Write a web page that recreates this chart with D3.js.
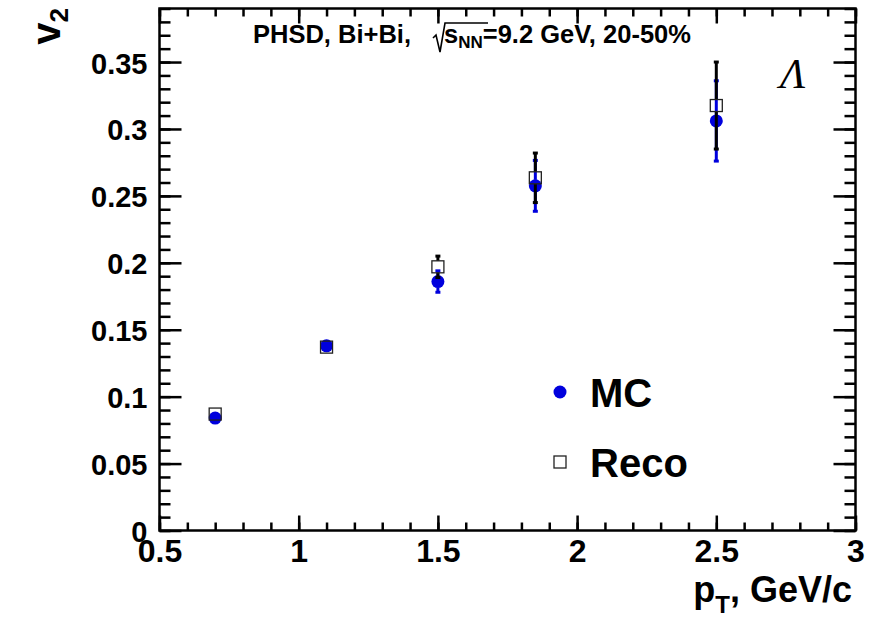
<!DOCTYPE html>
<html>
<head>
<meta charset="utf-8">
<script src="https://cdn.jsdelivr.net/npm/d3@7"></script>
<style>
body { margin: 0; background: #ffffff; }
svg { display: block; font-family: "Liberation Sans", Arial, sans-serif; }
</style>
</head>
<body>
<svg id="chartsvg" width="884" height="623"></svg>
<script>
// pT bins
var ptBins = [0.7, 1.1, 1.5, 1.85, 2.5];
// MC v2 and errors
var mcV2 = [0.084, 0.138, 0.186, 0.2575, 0.306];
var mcErr = [0.003, 0.003, 0.008, 0.019, 0.030];
// Reco v2 and errors
var recoV2 = [0.087, 0.137, 0.197, 0.2635, 0.3175];
var recoErr = [0.003, 0.003, 0.008, 0.0185, 0.0325];

var xTicks = [0.5, 1, 1.5, 2, 2.5, 3];
var yTicks = [0, 0.05, 0.1, 0.15, 0.2, 0.25, 0.3, 0.35];

var svg = d3.select("#chartsvg");

var x = d3.scaleLinear().domain([0.5, 3]).range([159.5, 855.5]);
var y = d3.scaleLinear().domain([0, 0.39]).range([530.5, 8.5]);

var xMinor = d3.range(5, 31).map(function(d) { return d / 10; });
var yMinor = d3.range(0, 40).map(function(d) { return d / 100; });

function drawAxes()
{
    // minor ticks first
    svg.append('g').attr('transform', 'translate(0,' + y(0) + ')')
        .call(d3.axisBottom(x).tickValues(xMinor).tickSize(-8).tickFormat(''))
    svg.append('g').attr('transform', 'translate(0,' + y(0.39) + ')')
        .call(d3.axisTop(x).tickValues(xMinor).tickSize(-8).tickFormat(''))
    svg.append('g').attr('transform', 'translate(' + x(0.5) + ',0)')
        .call(d3.axisLeft(y).tickValues(yMinor).tickSize(-11).tickFormat(''))
    svg.append('g').attr('transform', 'translate(' + x(3) + ',0)')
        .call(d3.axisRight(y).tickValues(yMinor).tickSize(-11).tickFormat(''))

    // major ticks
    var xb = svg.append('g').attr('class', 'xaxis').attr('transform', 'translate(0,' + y(0) + ')')
        .call(d3.axisBottom(x).tickValues(xTicks).tickSize(-15).tickPadding(31)
            .tickFormat(function(d) { return d3.format('')(d) }))
    svg.append('g').attr('transform', 'translate(0,' + y(0.39) + ')')
        .call(d3.axisTop(x).tickValues(xTicks).tickSize(-15).tickFormat(''))
    var yl = svg.append('g').attr('class', 'yaxis').attr('transform', 'translate(' + x(0.5) + ',0)')
        .call(d3.axisLeft(y).tickValues(yTicks).tickSize(-22).tickPadding(12)
            .tickFormat(function(d) { return d3.format('')(d) }))
    svg.append('g').attr('transform', 'translate(' + x(3) + ',0)')
        .call(d3.axisRight(y).tickValues(yTicks).tickSize(-22).tickFormat(''))

    svg.selectAll('.domain').remove()
    svg.selectAll('.tick line').attr('stroke', '#000').attr('stroke-width', 2.5)

    xb.selectAll('text')
        .attr('font-size', '32px')
        .attr('font-weight', 'bold')
        .attr('fill', '#000')
        .attr('dy', '0')
        .attr('font-family', '"Liberation Sans", Arial, sans-serif')
    yl.selectAll('text')
        .attr('font-size', '29px')
        .attr('font-weight', 'bold')
        .attr('fill', '#000')
        .attr('dy', '0.38em')
        .attr('font-family', '"Liberation Sans", Arial, sans-serif')

    // frame
    svg.append('rect')
        .attr('x', x(0.5))
        .attr('y', y(0.39))
        .attr('width', x(3) - x(0.5))
        .attr('height', y(0) - y(0.39))
        .attr('fill', 'none')
        .attr('stroke', '#000')
        .attr('stroke-width', 2.5)
}

function drawErrors(vals, errs, color, gap)
{
    var g = svg.append('g')
    for (var i = 0; i < ptBins.length; i++)
    {
        var cx = x(ptBins[i])
        var top = y(vals[i] + errs[i])
        var bot = y(vals[i] - errs[i])
        var cy = y(vals[i])
        if (cy - gap > top)
        {
            g.append('line').attr('x1', cx).attr('x2', cx)
                .attr('y1', top).attr('y2', cy - gap)
                .attr('stroke', color).attr('stroke-width', 3)
            g.append('rect').attr('x', cx - 2.5).attr('y', top - 1.5)
                .attr('width', 5).attr('height', 3).attr('fill', color)
        }
        if (bot > cy + gap)
        {
            g.append('line').attr('x1', cx).attr('x2', cx)
                .attr('y1', cy + gap).attr('y2', bot)
                .attr('stroke', color).attr('stroke-width', 3)
            g.append('rect').attr('x', cx - 2.5).attr('y', bot - 1.5)
                .attr('width', 5).attr('height', 3).attr('fill', color)
        }
    }
}

function drawPoints()
{
    drawErrors(mcV2, mcErr, '#0000dd', 6)

    svg.append('g').selectAll('circle')
        .data(ptBins)
        .enter()
        .append('circle')
        .attr('cx', function(d) { return x(d) })
        .attr('cy', function(d, i) { return y(mcV2[i]) })
        .attr('r', 6.5)
        .attr('fill', '#0000dd')

    drawErrors(recoV2, recoErr, '#000', 6)

    svg.append('g').selectAll('rect')
        .data(ptBins)
        .enter()
        .append('rect')
        .attr('x', function(d) { return x(d) - 6 })
        .attr('y', function(d, i) { return y(recoV2[i]) - 6 })
        .attr('width', 12)
        .attr('height', 12)
        .attr('fill', 'none')
        .attr('stroke', '#222')
        .attr('stroke-width', 1.3)
}

function drawTexts()
{
    // y title, rotated
    var yt = svg.append('text')
        .attr('transform', 'translate(60,8) rotate(-90)')
        .attr('text-anchor', 'end')
        .attr('font-size', '40px')
        .attr('font-weight', 'bold')
    yt.append('tspan').text('v')
    yt.append('tspan').attr('font-size', '26px').attr('dy', 8).text('2')

    // x title
    var xt = svg.append('text')
        .attr('x', 852)
        .attr('y', 602)
        .attr('text-anchor', 'end')
        .attr('font-size', '36px')
        .attr('font-weight', 'bold')
    xt.append('tspan').text('p')
    xt.append('tspan').attr('font-size', '24px').attr('dy', 11).text('T')
    xt.append('tspan').attr('dy', -11).text(', GeV/c')

    // header
    svg.append('text')
        .attr('x', 253)
        .attr('y', 43)
        .attr('font-size', '25.5px')
        .attr('font-weight', 'bold')
        .text('PHSD, Bi+Bi,')
    svg.append('path')
        .attr('d', 'M433,38 L436,35 L440,52 L445,23 L488,23')
        .attr('fill', 'none')
        .attr('stroke', '#000')
        .attr('stroke-width', 1.6)
    var hs = svg.append('text')
        .attr('x', 444)
        .attr('y', 43)
        .attr('font-size', '25.5px')
        .attr('font-weight', 'bold')
    hs.append('tspan').text('s')
    hs.append('tspan').attr('font-size', '17px').attr('dy', 5).text('NN')
    hs.append('tspan').attr('dy', -5).text('=9.2 GeV, 20-50%')

    // particle label
    svg.append('text')
        .attr('x', 780)
        .attr('y', 88)
        .attr('font-family', '"Liberation Serif", "Times New Roman", serif')
        .attr('font-style', 'italic')
        .attr('font-size', '42px')
        .text('Λ')
}

function drawLegend()
{
    var leg = svg.append('g')
    leg.append('circle')
        .attr('cx', 560)
        .attr('cy', 392)
        .attr('r', 6.5)
        .attr('fill', '#0000dd')
    leg.append('rect')
        .attr('x', 554)
        .attr('y', 456)
        .attr('width', 12)
        .attr('height', 12)
        .attr('fill', 'none')
        .attr('stroke', '#222')
        .attr('stroke-width', 1.3)
    leg.append('text')
        .attr('x', 590)
        .attr('y', 407)
        .attr('font-size', '40px')
        .attr('font-weight', 'bold')
        .text('MC')
    leg.append('text')
        .attr('x', 590)
        .attr('y', 477)
        .attr('font-size', '40px')
        .attr('font-weight', 'bold')
        .text('Reco')
}

drawAxes()
drawPoints()
drawTexts()
drawLegend()
</script>
</body>
</html>
